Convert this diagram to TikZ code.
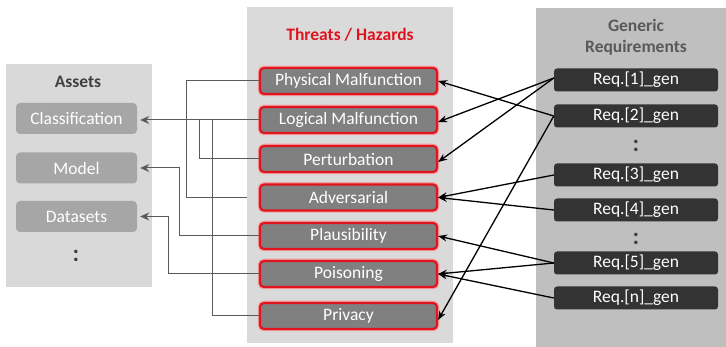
\documentclass[tikz,border=0pt]{standalone}
\usepackage{fontspec}
\setmainfont{Carlito}
\usetikzlibrary{arrows.meta}
\definecolor{panelA}{HTML}{D9D9D9}
\definecolor{panelT}{HTML}{DADADA}
\definecolor{panelG}{HTML}{BFBFBF}
\definecolor{assetfill}{HTML}{A6A6A6}
\definecolor{threatfill}{HTML}{808080}
\definecolor{threatred}{HTML}{E0141E}
\definecolor{glow}{HTML}{F4A0A0}
\definecolor{reqfill}{HTML}{333333}
\definecolor{titlegray}{HTML}{404040}
\definecolor{gentitle}{HTML}{595959}
\definecolor{linkgray}{HTML}{5A5A5A}
\begin{document}
\begin{tikzpicture}[x=1pt,y=-1pt,
  every node/.style={font=\fontsize{17.5}{20}\selectfont},
  assetbox/.style={fill=assetfill, rounded corners=4pt, minimum width=121pt, minimum height=31pt, text=white, inner sep=0pt},
  threatbox/.style={fill=threatfill, draw=threatred, line width=2.2pt, rounded corners=4pt, minimum width=177pt, minimum height=26pt, text=white, inner sep=0pt,
     preaction={draw=glow, line width=4.5pt, rounded corners=4pt}},
  reqbox/.style={fill=reqfill, rounded corners=3pt, minimum width=164pt, minimum height=23pt, text=white, inner sep=0pt},
  ttl/.style={font=\fontsize{17.5}{20}\selectfont\bfseries, align=center},
  leftlink/.style={draw=linkgray, line width=1pt},
  leftarrow/.style={leftlink, -{Stealth[length=9pt,width=8pt]}, shorten >=3pt},
  rightarrow/.style={draw=black, line width=1.3pt, -{Stealth[length=9pt,width=7pt]}},
  dots/.style={font=\fontsize{24}{26}\selectfont\bfseries, text=titlegray}
]
\useasboundingbox (0,0) rectangle (726,347);
\fill[white] (0,0) rectangle (726,347);
% panels
\fill[panelA] (6,64) rectangle (152,287);
\fill[panelT] (247,7) rectangle (453,343);
\fill[panelG] (536,8) rectangle (726,347);
% titles
\node[ttl, text=titlegray] (tA) at (78,82) {Assets};
\node[ttl, text=threatred] (tT) at (350,35) {Threats / Hazards};
\node[ttl, text=gentitle] (tG) at (636,37) {Generic\\[1pt]Requirements};
% assets
\node[assetbox] (cls) at (76.5,118.5) {Classification};
\node[assetbox] (mod) at (76.5,168) {Model};
\node[assetbox] (dat) at (76.5,216.5) {Datasets};
\node[dots] (adots) at (76,256) {:};
% threats
\node[threatbox] (phy) at (348.5,81) {Physical Malfunction};
\node[threatbox] (log) at (348.5,120) {Logical Malfunction};
\node[threatbox] (per) at (348.5,159) {Perturbation};
\node[threatbox] (adv) at (348.5,197.5) {Adversarial};
\node[threatbox] (pla) at (348.5,236) {Plausibility};
\node[threatbox] (poi) at (348.5,274) {Poisoning};
\node[threatbox] (pri) at (348.5,316) {Privacy};
% requirements
\node[reqbox] (r1) at (636,80) {Req.[1]\_gen};
\node[reqbox] (r2) at (636,116) {Req.[2]\_gen};
\node[dots] (rd1) at (636,146) {:};
\node[reqbox] (r3) at (636,175) {Req.[3]\_gen};
\node[reqbox] (r4) at (636,210) {Req.[4]\_gen};
\node[dots] (rd2) at (636,239) {:};
\node[reqbox] (r5) at (636,263) {Req.[5]\_gen};
\node[reqbox] (rn) at (636,298) {Req.[n]\_gen};
% left connectors
\draw[leftarrow] (log.west) -- (log.west -| cls.east);
\draw[leftlink, shorten >=12pt] (phy.west) -| ([xshift=-72pt]adv.west) -- (adv.west);
\draw[leftlink] (per.west) -| ([xshift=-59pt]log.west);
\draw[leftlink] (pri.west) -| ([xshift=-46pt]log.west);
\draw[leftarrow] (pla.west) -| ([xshift=42pt]mod.east) -- (mod.east);
\draw[leftarrow] (poi.west) -| ([xshift=31pt]dat.east) -- (dat.east);
% right connectors
\draw[rightarrow] ([yshift=2pt]r1.west) -- ([yshift=-2pt]log.east);
\draw[rightarrow] ([yshift=2pt]r1.west) -- ([yshift=-3pt]per.east);
\draw[rightarrow] (r2.west) -- (phy.east);
\draw[rightarrow] (r2.west) -- ([yshift=-4pt]pri.east);
\draw[rightarrow] (r3.west) -- (adv.east);
\draw[rightarrow] (r4.west) -- (adv.east);
\draw[rightarrow] (r5.west) -- (pla.east);
\draw[rightarrow] (r5.west) -- (poi.east);
\draw[rightarrow] (rn.west) -- (poi.east);
\end{tikzpicture}
\end{document}
